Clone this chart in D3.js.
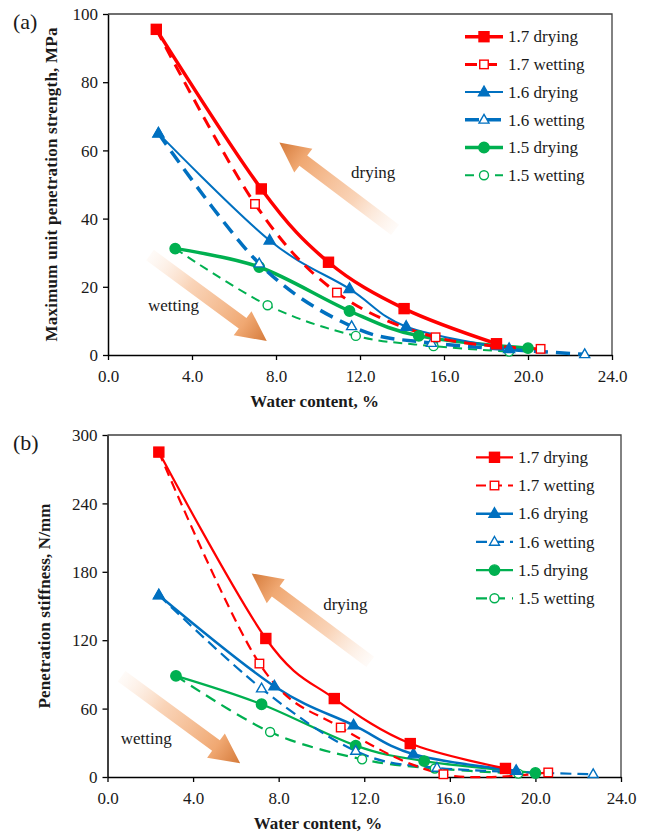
<!DOCTYPE html>
<html><head><meta charset="utf-8">
<script src="https://cdn.jsdelivr.net/npm/d3@7"></script>
<style>body{margin:0;background:#fff}svg{display:block}text{font-family:"Liberation Serif","Times New Roman",serif;fill:#1a1a1a}</style>
</head><body>
<script>
// ---------- data ----------
const seriesNames = ["1.7 drying","1.7 wetting","1.6 drying","1.6 wetting","1.5 drying","1.5 wetting"];
const xTicks = [0,4,8,12,16,20,24];
const yTicksA = [0,20,40,60,80,100];
const yTicksB = [0,60,120,180,240,300];

// (a) Maximum unit penetration strength, MPa
const a17dryX = [2.3, 7.3, 10.5, 14.1, 18.5], a17dryY = [95.5, 48.7, 27.2, 13.6, 3.3];
const a17wetX = [2.3, 7.0, 10.9, 15.6, 20.6], a17wetY = [95.5, 44.3, 18.3, 5.2, 1.8];
const a16dryX = [2.4, 7.7, 11.5, 14.2, 19.1], a16dryY = [65.0, 33.6, 19.4, 8.3, 1.8];
const a16wetX = [2.4, 7.2, 11.6, 15.4, 22.7], a16wetY = [65.0, 26.8, 8.4, 3.5, 0.2];
const a15dryX = [3.2, 7.2, 11.5, 14.8, 20.0], a15dryY = [31.2, 25.8, 12.9, 5.6, 2.0];
const a15wetX = [3.2, 7.6, 11.8, 15.5, 19.1], a15wetY = [31.2, 14.6, 5.6, 2.6, 1.0];

// (b) Penetration stiffness, N/mm
const b17dryX = [2.4, 7.4, 10.6, 14.15, 18.6], b17dryY = [285, 121.5, 68.8, 29.3, 7.5];
const b17wetX = [2.4, 7.1, 10.9, 15.7, 20.6], b17wetY = [285, 99.5, 43.4, 2.4, 4.0];
const b16dryX = [2.4, 7.8, 11.5, 14.3, 19.1], b16dryY = [159.5, 79.6, 45.4, 20.0, 5.5];
const b16wetX = [2.4, 7.2, 11.6, 15.4, 22.7], b16wetY = [159.5, 77.6, 22.8, 8.0, 2.4];
const b15dryX = [3.2, 7.2, 11.6, 14.8, 20.0], b15dryY = [88.7, 63.8, 27.5, 14.0, 3.5];
const b15wetX = [3.2, 7.6, 11.9, 15.3, 19.2], b15wetY = [88.7, 39.5, 15.5, 7.5, 3.0];

// ---------- styles ----------
const RED="#ff0000", BLUE="#0070c0", GREEN="#00b050";
const styleA = [
  {c:RED, w:3.5, dash:null, m:"square", fill:true},
  {c:RED, w:3, dash:"12,8", m:"square", fill:false},
  {c:BLUE, w:2, dash:null, m:"triangle", fill:true},
  {c:BLUE, w:3.5, dash:"14,8", m:"triangle", fill:false},
  {c:GREEN, w:3.5, dash:null, m:"circle", fill:true},
  {c:GREEN, w:2, dash:"9,6", m:"circle", fill:false}
];
const styleB = [
  {c:RED, w:2.2, dash:null, m:"square", fill:true},
  {c:RED, w:2.2, dash:"10,6", m:"square", fill:false},
  {c:BLUE, w:2.5, dash:null, m:"triangle", fill:true},
  {c:BLUE, w:2.2, dash:"11,6", m:"triangle", fill:false},
  {c:GREEN, w:2.2, dash:null, m:"circle", fill:true},
  {c:GREEN, w:2.2, dash:"11,7", m:"circle", fill:false}
];

const svg = d3.select("body").append("svg").attr("width",646).attr("height",834);
const defs = svg.append("defs");

function zip(xs, ys){ return xs.map((x,i)=>({x, y:ys[i]})); }

function marker(g, type, cx, cy, st){
  const fill = st.fill ? st.c : "#fff";
  const sw = 1.4;
  if(type==="square"){
    const s = st.fill ? 10 : 8.5;
    g.append("rect").attr("x",cx-s/2).attr("y",cy-s/2).attr("width",s).attr("height",s)
      .attr("fill",fill).attr("stroke",st.c).attr("stroke-width",sw);
  } else if(type==="triangle"){
    const s = st.fill ? 11 : 10;
    const h = s*0.87;
    g.append("path").attr("d",`M${cx},${cy-h*0.62}L${cx+s/2},${cy+h*0.38}L${cx-s/2},${cy+h*0.38}Z`)
      .attr("fill",fill).attr("stroke",st.c).attr("stroke-width",sw);
  } else {
    g.append("circle").attr("cx",cx).attr("cy",cy).attr("r",st.fill?5.2:4.5)
      .attr("fill",fill).attr("stroke",st.c).attr("stroke-width",sw);
  }
}

let gradId = 0;
function arrow(g, x, y, tail, tip){
  const x0=x(tail[0]), y0=y(tail[1]), x1=x(tip[0]), y1=y(tip[1]);
  const dx=x1-x0, dy=y1-y0, L=Math.hypot(dx,dy);
  const ang = Math.atan2(dy,dx)*180/Math.PI;
  const id = "ag"+(gradId++);
  const lg = defs.append("linearGradient").attr("id",id).attr("x1",0).attr("y1",0).attr("x2",1).attr("y2",0);
  lg.append("stop").attr("offset","0%").attr("stop-color","#fbe3d1").attr("stop-opacity",0.15);
  lg.append("stop").attr("offset","35%").attr("stop-color","#f8c9a6").attr("stop-opacity",0.8);
  lg.append("stop").attr("offset","80%").attr("stop-color","#f0a872");
  lg.append("stop").attr("offset","100%").attr("stop-color","#d57a3a");
  const sw=6.5, hw=15, hl=30;
  g.append("path")
    .attr("d",`M0,${-sw}L${L-hl},${-sw}L${L-hl},${-hw}L${L},0L${L-hl},${hw}L${L-hl},${sw}L0,${sw}Z`)
    .attr("transform",`translate(${x0},${y0}) rotate(${ang})`)
    .attr("fill",`url(#${id})`);
}

function panel(cfg){
  const {left,top,right,bottom,yMax,yTicks,series,styles,label,ytitle,ytitleX,ytitleLen,legX,legY,legStep,legLen,arrows,texts} = cfg;
  const x = d3.scaleLinear().domain([0,24]).range([left,right]);
  const y = d3.scaleLinear().domain([0,yMax]).range([bottom,top]);
  const g = svg.append("g");

  // frame (top/right)
  g.append("path").attr("d",`M${left},${top}H${right}V${bottom}`).attr("fill","none").attr("stroke","#404040").attr("stroke-width",1.3);

  // arrows (behind data)
  arrows.forEach(a=>arrow(g,x,y,a.tail,a.tip));
  texts.forEach(t=>g.append("text").attr("x",x(t.x)).attr("y",y(t.y)).attr("font-size",17).text(t.t));

  // axes
  const xa = g.append("g").attr("transform",`translate(0,${bottom})`)
    .call(d3.axisBottom(x).tickValues(xTicks).tickFormat(d3.format(".1f")).tickSize(5).tickSizeOuter(0));
  const ya = g.append("g").attr("transform",`translate(${left},0)`)
    .call(d3.axisLeft(y).tickValues(yTicks).tickSize(5).tickSizeOuter(0));
  [xa,ya].forEach(a=>{
    a.select(".domain").attr("stroke","#000").attr("stroke-width",1.5);
    a.selectAll(".tick line").attr("stroke","#000").attr("stroke-width",1.3);
    a.selectAll(".tick text").attr("font-size",17).attr("font-family","Liberation Serif").attr("fill","#1a1a1a");
  });
  xa.selectAll(".tick text").attr("dy","1.1em");
  ya.selectAll(".tick text").attr("x",-10).attr("dy","0.34em");

  // series
  const line = d3.line().x(d=>x(d.x)).y(d=>y(d.y)).curve(d3.curveCardinal.tension(0));
  const order = [5,4,3,2,1,0];
  order.forEach(i=>{
    const st = styles[i];
    g.append("path").datum(series[i]).attr("d",line).attr("fill","none")
      .attr("stroke",st.c).attr("stroke-width",st.w).attr("stroke-dasharray",st.dash)
      .attr("stroke-linecap","butt");
  });
  order.forEach(i=>{
    const st = styles[i];
    series[i].forEach(d=>marker(g, st.m, x(d.x), y(d.y), st));
  });

  // legend
  seriesNames.forEach((n,i)=>{
    const st = styles[i];
    const yy = legY + i*legStep;
    g.append("line").attr("x1",legX).attr("x2",legX+legLen).attr("y1",yy).attr("y2",yy)
      .attr("stroke",st.c).attr("stroke-width",st.w).attr("stroke-dasharray",st.dash);
    marker(g, st.m, legX+legLen/2, yy, st);
    g.append("text").attr("x",legX+legLen+5).attr("y",yy).attr("dy","0.34em").attr("font-size",17).text(n);
  });

  // titles
  g.append("text").attr("x",left + 0.41*(right-left)).attr("y",bottom+52).attr("text-anchor","middle")
    .attr("font-size",17).attr("font-weight","bold").text("Water content, %");
  g.append("text").attr("transform",`translate(${ytitleX},${(top+bottom)/2}) rotate(-90)`)
    .attr("text-anchor","middle").attr("font-size",17).attr("font-weight","bold")
    .attr("textLength",ytitleLen).attr("lengthAdjust","spacing").text(ytitle);
  g.append("text").attr("x",13).attr("y",top+15).attr("font-size",22).text(label);
}

panel({
  left:108, top:14, right:612, bottom:355, yMax:100, yTicks:yTicksA,
  series:[zip(a17dryX,a17dryY),zip(a17wetX,a17wetY),zip(a16dryX,a16dryY),zip(a16wetX,a16wetY),zip(a15dryX,a15dryY),zip(a15wetX,a15wetY)],
  styles:styleA, label:"(a)", ytitle:"Maximum unit penetration strength, MPa", ytitleX:57, ytitleLen:314,
  legX:465, legY:36.7, legStep:27.7, legLen:38,
  arrows:[{tail:[13.67,36.7], tip:[8.16,62.3]},{tail:[2.0,29.3], tip:[7.56,4.1]}],
  texts:[{x:11.57,y:51.9,t:"drying"},{x:1.9,y:12.9,t:"wetting"}]
});
panel({
  left:107.5, top:435, right:621, bottom:777, yMax:300, yTicks:yTicksB,
  series:[zip(b17dryX,b17dryY),zip(b17wetX,b17wetY),zip(b16dryX,b16dryY),zip(b16wetX,b16wetY),zip(b15dryX,b15dryY),zip(b15wetX,b15wetY)],
  styles:styleB, label:"(b)", ytitle:"Penetration stiffness, N/mm", ytitleX:50, ytitleLen:205,
  legX:476, legY:457.3, legStep:28.2, legLen:37,
  arrows:[{tail:[12.28,101], tip:[6.74,178.6]},{tail:[0.66,88.3], tip:[6.2,12.0]}],
  texts:[{x:10.08,y:146.1,t:"drying"},{x:0.62,y:28.7,t:"wetting"}]
});
</script>
</body></html>
